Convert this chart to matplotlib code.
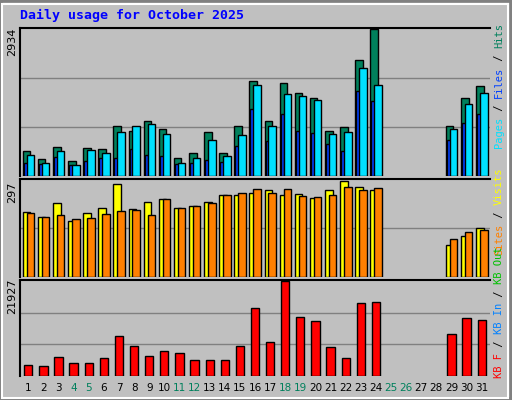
import matplotlib
matplotlib.use("Agg")
import matplotlib.pyplot as plt
import numpy as np

days = list(range(1, 32))
hits = [500,340,580,300,560,540,1000,900,1100,940,360,460,880,460,1000,1910,1100,1870,1660,1560,900,980,2320,2934,0,0,0,0,1000,1560,1800]
files = [260,240,380,230,300,360,360,540,420,400,250,260,320,280,600,1340,700,1250,900,860,640,500,1700,1500,0,0,0,0,720,1060,1240]
pages = [420,260,500,220,520,460,880,1000,1040,840,260,360,720,400,820,1820,1000,1640,1600,1520,840,880,2160,1820,0,0,0,0,940,1440,1660]
visits = [200,185,225,170,195,210,284,208,230,240,210,217,230,252,252,258,265,250,253,243,265,293,275,265,0,0,0,0,99,125,150]
sites = [195,185,190,178,182,192,202,205,190,240,210,217,227,252,258,268,258,268,249,246,252,275,265,271,0,0,0,0,115,137,144]
kbytes = [2600,2400,4300,2900,2900,4100,9200,7000,4600,5800,5300,3800,3800,3800,7000,15700,7900,21927,13600,12600,6600,4100,16800,17000,0,0,0,0,9600,13400,12900]
weekend = {4,5,11,12,18,19,25,26}

W, H = 512, 400
fig = plt.figure(figsize=(W/100, H/100), dpi=100, facecolor="#c0c0c0")
fig.patches.append(plt.Rectangle((0,0),1,1,transform=fig.transFigure,fill=False,lw=4,ec="#808080"))
fig.patches.append(plt.Rectangle((2/W,2/H),1-6/W,1-6/H,transform=fig.transFigure,fill=False,lw=1.5,ec="white"))
fig.text(20/W, 1-15/H, "Daily usage for October 2025", color="#0000ff", fontsize=9.5,
         fontweight="bold", family="DejaVu Sans Mono", va="center")

def ax_at(top, bot):
    a = fig.add_axes([20/W, 1-bot/H, 470/W, (bot-top)/H], facecolor="#c0c0c0")
    a.set_xlim(0.45, 31.55)
    for s in a.spines.values():
        s.set_visible(False)
    for k in ("left", "top"):
        a.spines[k].set_visible(True); a.spines[k].set_color("black"); a.spines[k].set_linewidth(1.5)
    a.set_yticks([]); a.set_xticks([])
    return a

def nz(vals):
    idx = [i for i, v in enumerate(vals) if v > 0]
    return np.array([days[i] for i in idx]), [vals[i] for i in idx]

ek = dict(edgecolor="black", linewidth=1)

a1 = ax_at(28, 176)
a1.set_ylim(0, 2934*1.01)
for g in [2934*2/3, 2934/3]:
    a1.axhline(g, color="#808080", lw=1, zorder=0)
xh, vh = nz(hits); a1.bar(xh-0.12, vh, width=0.5, color="#00805c", **ek, zorder=2)
xf, vf = nz(files); a1.bar(xf-0.3, vf, width=0.25, color="#0040ff", align="edge", **ek, zorder=3)
xp, vp = nz(pages); a1.bar(xp+0.14, vp, width=0.5, color="#00e0ff", **ek, zorder=4)
fig.text(12/W, 1-42/H, "2934", rotation=90, fontsize=8, va="center", ha="center")

a2 = ax_at(179, 277)
a2.set_ylim(0, 297*1.01)
a2.axhline(297/2, color="#808080", lw=1, zorder=0)
xv, vv = nz(visits); a2.bar(xv-0.12, vv, width=0.5, color="#ffff00", **ek, zorder=2)
xs, vs = nz(sites); a2.bar(xs+0.14, vs, width=0.5, color="#ff8000", **ek, zorder=3)
fig.text(12/W, 1-192/H, "297", rotation=90, fontsize=8, va="center", ha="center")

a3 = ax_at(280, 376)
a3.set_ylim(0, 21927*1.01)
for g in [21927*2/3, 21927/3]:
    a3.axhline(g, color="#808080", lw=1, zorder=0)
xk, vk = nz(kbytes); a3.bar(xk, vk, width=0.55, color="#ff0000", **ek, zorder=2)
fig.text(12/W, 1-296/H, "21927", rotation=90, fontsize=8, va="center", ha="center")

for d in days:
    xpos = (20 + 470*(d-0.45)/31.1)/W
    fig.text(xpos, 1-388/H, str(d), fontsize=7.5, ha="center", va="center",
             color="#00805c" if d in weekend else "black")

FS = 7.5
step = 0.6*FS*100/72
def vlabel(parts, ybot):
    y = ybot
    for txt, col in parts:
        fig.text(499/W, y/H, txt, rotation=90, color=col, fontsize=FS,
                 family="DejaVu Sans Mono", ha="center", va="bottom")
        y += len(txt)*step
vlabel([("Pages",'#00e0ff'),(" / ",'black'),("Files",'#0040ff'),(" / ",'black'),("Hits",'#00805c')], H-148)
vlabel([("Sites",'#ff8000'),(" / ",'black'),("Visits",'#ffff00')], H-255)
vlabel([("KB F",'#ff0000'),(" / ",'black'),("KB In",'#0080ff'),(" / ",'black'),("KB Out",'#00c000')], H-378)

fig.savefig("out.png", dpi=100, facecolor=fig.get_facecolor())
